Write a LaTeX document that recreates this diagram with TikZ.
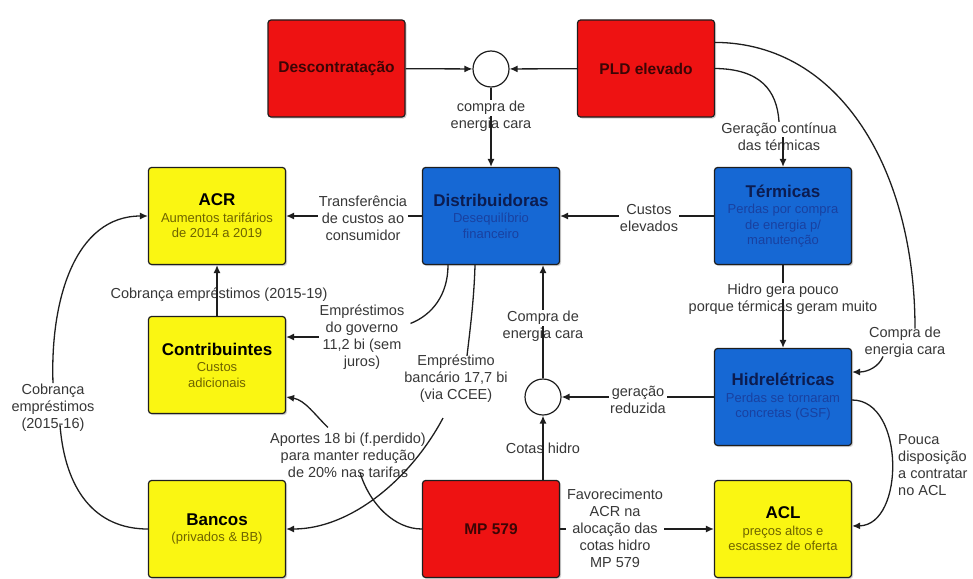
\documentclass[tikz,border=0pt]{standalone}
\usepackage{fontspec}
\setmainfont{Liberation Sans}
\usetikzlibrary{arrows.meta,shadows,calc}
\definecolor{boxred}{RGB}{238,18,18}
\definecolor{boxyellow}{RGB}{250,246,18}
\definecolor{boxblue}{RGB}{22,104,212}
\definecolor{edgegray}{RGB}{30,30,30}
\definecolor{labelgray}{RGB}{55,55,55}
\definecolor{redtext}{RGB}{60,5,5}
\definecolor{bluetitle}{RGB}{12,28,80}
\definecolor{bluesub}{RGB}{25,65,160}
\definecolor{yellowsub}{RGB}{110,100,0}
\tikzset{
  box/.style={draw=edgegray, line width=1.2pt, rounded corners=3pt,
    minimum width=137pt, minimum height=97pt, align=center,
    drop shadow={opacity=0.35,shadow xshift=1.5pt,shadow yshift=-1.5pt},
    font=\fontsize{13}{15.5}\selectfont},
  redbox/.style={box, fill=boxred, text=redtext, font=\fontsize{15.5}{18}\selectfont\bfseries},
  bluebox/.style={box, fill=boxblue, text=bluesub},
  yellowbox/.style={box, fill=boxyellow, text=yellowsub},
  junction/.style={circle, draw=edgegray, fill=white, line width=1.2pt, minimum size=36pt, inner sep=0pt},
  lbl/.style={text=labelgray, align=center, inner sep=1pt, font=\fontsize{14.5}{17}\selectfont},
  lblw/.style={lbl, fill=white},
  conn/.style={draw=edgegray, line width=1.3pt},
  arr/.style={conn, -{Latex[length=8pt,width=7pt]}},
}
\newcommand{\bluehead}[1]{{\fontsize{17}{19}\selectfont\bfseries\color{bluetitle}#1}}
\newcommand{\yellowhead}[1]{{\fontsize{17}{19}\selectfont\bfseries\color{black}#1}}
\begin{document}
\begin{tikzpicture}[x=1pt,y=-1pt]
  \useasboundingbox (0,0) rectangle (973,578);
  % boxes
  \node[redbox] (desc) at (336.5,68.5) {Descontratação};
  \node[redbox] (pld) at (646,68.5) {PLD elevado};
  \node[junction] (jtop) at (491,69) {};
  \node[yellowbox] (acr) at (217,216) {\yellowhead{ACR}\\[1pt]Aumentos tarifários\\de 2014 a 2019};
  \node[bluebox] (dist) at (491,216) {\bluehead{Distribuidoras}\\[1pt]Desequilíbrio\\financeiro};
  \node[bluebox] (term) at (783,216) {\bluehead{Térmicas}\\[1pt]Perdas por compra\\de energia p/\\manutenção};
  \node[yellowbox] (contr) at (217,365) {\yellowhead{Contribuintes}\\[1pt]Custos\\adicionais};
  \node[bluebox] (hidr) at (783,397) {\bluehead{Hidrelétricas}\\[1pt]Perdas se tornaram\\concretas (GSF)};
  \node[junction] (jlow) at (543,397) {};
  \node[yellowbox] (banc) at (217,529) {\yellowhead{Bancos}\\[1pt](privados \& BB)};
  \node[redbox] (mp) at (491,529) {MP 579};
  \node[yellowbox] (acl) at (783,529) {\yellowhead{ACL}\\[1pt]preços altos e\\escassez de oferta};

  % straight connectors under the labels
  \draw[arr] (dist) -- (acr);
  \draw[arr] (term) -- (dist);
  \draw[arr] (hidr) -- (jlow);
  \draw[arr] (mp) -- (acl);

  % labels
  \node[lblw] (ctop) at (491,116) {compra de\\energia cara};
  \node[lblw] (transf) at (363,218) {Transferência\\de custos ao\\consumidor};
  \node[lblw] (custos) at (649,218) {Custos\\elevados};
  \node[lblw] (gct) at (779,137) {Geração contínua\\das térmicas};
  \node[lblw] (hgp) at (783,299) {Hidro gera pouco\\porque térmicas geram muito};
  \node[lblw] (cec) at (905,342) {Compra de\\energia cara};
  \node[lblw] (gr) at (638,400) {geração\\reduzida};
  \node[lbl] (ch) at (543,448) {Cotas hidro};
  \node[lblw] (cclow) at (543,326) {Compra de\\energia cara};
  \node[lblw] (fav) at (615,528) {Favorecimento\\ACR na\\alocação das\\cotas hidro\\MP 579};
  \node[lbl, anchor=west, align=left] (pouca) at (897,465) {Pouca\\disposição\\a contratar\\no ACL};
  \node[lbl] (cob19) at (219,295) {Cobrança empréstimos (2015-19)};
  \node[lblw] (cob16) at (53,408) {Cobrança\\empréstimos\\(2015-16)};
  \node[lbl] (eg) at (362,337) {Empréstimos\\do governo\\11,2 bi (sem\\juros)};
  \node[lbl] (eb) at (456,379) {Empréstimo\\bancário 17,7 bi\\(via CCEE)};
  \node[lbl] (ap) at (348,455) {Aportes 18 bi (f.perdido)\\para manter redução\\de 20\% nas tarifas};

  % top junction
  \draw[arr] (desc) -- (jtop);
  \draw[arr] (pld) -- (jtop);
  \draw[conn] (jtop) -- (ctop.north);
  \draw[arr] (ctop.center) -- (dist.north);

  % PLD elevado to the right column
  \draw[conn] (pld.east) .. controls (760,69) and (777,90) .. (gct.north);
  \draw[arr] (gct.center -| term.north) -- (term.north);
  \draw[conn] (term) -- (hgp.north);
  \draw[arr] (hgp.center) -- (hidr.north);
  \draw[conn] ($(pld.north east)+(0,23)$) .. controls (840,43) and (915,170) .. ($(cec.north)+(10,3)$);
  \draw[arr] ($(cec.south)+(-22,-2)$) .. controls ($(cec.south)+(-26,8)$) and (868,372) .. ($(hidr.east)+(0,-25)$);
  \draw[arr] ($(hidr.east)+(0,3)$) .. controls (905,400) and (905,525) .. ($(acl.east)+(0,-3)$);

  % lower junction
  \draw[arr] (mp.north -| jlow.south) -- (jlow);
  \draw[conn] (jlow) -- (cclow.center);
  \draw[arr] (cclow.north) -- (cclow.north |- dist.south);

  % left column
  \draw[arr] (contr) -- (acr);
  \draw[conn] ($(cob16.south)+(7,-8)$) .. controls (65,490) and (95,529) .. (banc.west);
  \draw[arr] (cob16.north) .. controls (50,300) and (75,216) .. (acr.west);

  % loans and contributions
  \draw[conn] ($(dist.south)+(-43,0)$) .. controls (448,295) and (432,315) .. ($(eg.north east)+(5,20)$);
  \draw[arr] (eg.west) -- (eg.west -| contr.east);
  \draw[conn] ($(dist.south)+(-16,0)$) .. controls (474,300) and (470,330) .. ($(eb.north)+(11,2)$);
  \draw[arr] ($(eb.south)+(-13,14)$) .. controls (410,480) and (350,529) .. (banc.east);
  \draw[conn] (mp.west) .. controls (395,529) and (370,505) .. ($(ap.south)+(12,-6)$);
  \draw[arr] ($(ap.north)+(-20,-4)$) .. controls (315,415) and (305,400) .. ($(contr.east)+(0,32)$);
\end{tikzpicture}
\end{document}
